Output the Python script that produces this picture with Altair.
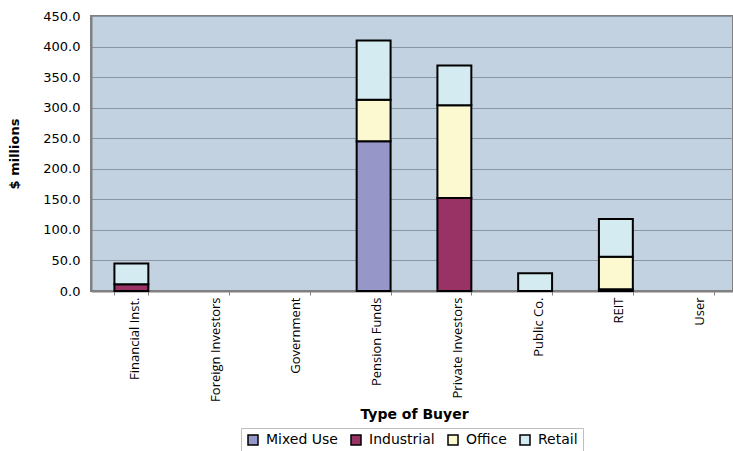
import altair as alt
import pandas as pd

categories = ["Financial Inst.", "Foreign Investors", "Government", "Pension Funds",
              "Private Investors", "Public Co.", "REIT", "User"]
series = ["Mixed Use", "Industrial", "Office", "Retail"]
mixed_use = [0, 0, 0, 245, 0, 0, 0, 0]
industrial = [11, 0, 0, 0, 152, 0, 3, 0]
office = [0, 0, 0, 68, 152, 0, 53, 0]
retail = [34, 0, 0, 97, 65, 29, 62, 0]
colors = ["#9696C8", "#993366", "#FCF9D0", "#D4EBF2"]
y_ticks = [0, 50, 100, 150, 200, 250, 300, 350, 400, 450]

rows = []
for si, (name, vals) in enumerate(zip(series, [mixed_use, industrial, office, retail])):
    for cat, v in zip(categories, vals):
        if v > 0:
            rows.append({"Buyer": cat, "Type": name, "Value": v, "ord": si})
df = pd.DataFrame(rows)

chart = alt.Chart(df).mark_bar(stroke="black", strokeWidth=2).encode(
    x=alt.X("Buyer:N", sort=categories,
            scale=alt.Scale(domain=categories, paddingInner=0.58, paddingOuter=0.29, range=[0, 646]),
            axis=alt.Axis(title="Type of Buyer", labelAngle=270, labelFont="Open Sans",
                          labelFontSize=13, labelColor="black", labelPadding=2, labelOffset=3,
                          tickBand="extent", tickSize=4, tickColor="#808080",
                          domainColor="#808080", domainWidth=2,
                          titleFont="DejaVu Sans", titleFontSize=14, titleFontWeight="bold",
                          titleColor="black", titleY=127, titleBaseline="alphabetic")),
    y=alt.Y("Value:Q", stack="zero",
            scale=alt.Scale(domain=[0, 450], nice=False),
            axis=alt.Axis(title="$ millions", values=y_ticks, format=".1f",
                          labelFont="DejaVu Sans", labelFontSize=13, labelColor="black",
                          labelPadding=11, ticks=False,
                          grid=True, gridColor="#8996A5", gridWidth=1,
                          domainColor="#808080", domainWidth=2,
                          titleFont="DejaVu Sans", titleFontSize=13, titleFontWeight="bold",
                          titleColor="black", titleX=-77, titleBaseline="middle")),
    color=alt.Color("Type:N", sort=series,
                    scale=alt.Scale(domain=series, range=colors),
                    legend=alt.Legend(title=None, orient="none", direction="horizontal",
                                      legendX=150, legendY=412, columns=4,
                                      symbolType="square", symbolSize=100,
                                      symbolStrokeColor="black", symbolStrokeWidth=1.5,
                                      symbolOpacity=1,
                                      labelFont="DejaVu Sans", labelFontSize=14,
                                      labelColor="black", labelOffset=6, columnPadding=10,
                                      strokeColor="#BFBFBF", fillColor="white", padding=5)),
    order=alt.Order("ord:Q", sort="ascending"),
).properties(
    width=642, height=275,
    autosize=alt.AutoSizeParams(type="none"),
    padding={"left": 91, "top": 16, "right": 0, "bottom": 160},
).configure(
    background="white"
).configure_view(
    fill="#C3D2E1", stroke="#808080", strokeWidth=2
)

chart.save("out.html", embed_options={"renderer": "svg", "actions": False})
